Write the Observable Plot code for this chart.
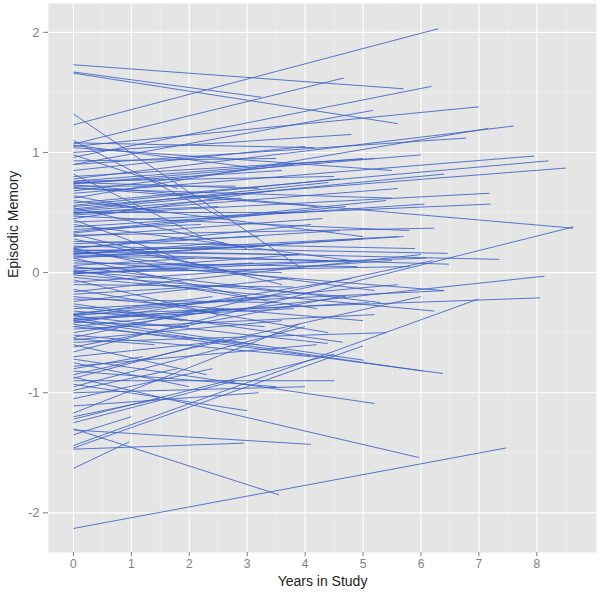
<!DOCTYPE html>
<html>
<head>
<meta charset="utf-8">
<script src="https://cdn.jsdelivr.net/npm/d3@7"></script>
<script src="https://cdn.jsdelivr.net/npm/@observablehq/plot@0.6"></script>
<style>
  html, body { margin: 0; padding: 0; background: #ffffff; }
  #chart svg { display: block; }
</style>
</head>
<body>
<div id="chart"></div>
<script>
// Each participant's fitted trajectory: value at year 0, last year in study, value at that year
const intercepts = [
  1.73, 1.67, 1.66, 1.32, 1.23, 1.07, 0.96, 1.08, 1.05, 0.90, 0.78, 1.10, 1.06, 1.04, 1.00, 0.98, 0.62, 0.93, 0.90, 0.85, 0.82, 0.80,
  0.76, 0.75, 0.74, 0.73, 0.72, 0.71, 0.70, 0.68, 0.66, 0.64, 0.60, 0.58, 0.56, 0.55, 0.54, 0.52, 0.50, 0.50, 0.48, 0.47, 0.45, 0.44,
  0.42, 0.40, 0.38, 0.36, 0.34, 0.32, 0.31, 0.30, 0.28, 0.26, 0.24, 0.22, 0.21, 0.20, 0.19, 0.18, 0.17, 0.16, 0.15, 0.14, 0.13, 0.12,
  0.10, 0.08, 0.06, 0.05, 0.04, 0.03, 0.02, 0.01, 0.00, -0.01, -0.02, -0.04, -0.06, -0.08, -0.10, -0.45, -0.14, -0.16, -0.18, -0.20,
  -0.22, -0.35, -0.26, -0.28, -0.30, -0.32, -0.34, -0.35, -0.36, -0.38, -0.39, -0.40, -0.41, -0.42, -0.43, -0.45, -0.47, -0.50, -0.52,
  -0.54, -0.55, -0.56, -0.58, -0.60, -0.62, -0.66, -0.70, -0.72, -0.75, -0.78, -0.80, -0.82, -0.85, -0.87, -0.88, -0.90, -0.93, -0.95,
  -0.98, -1.00, -1.05, -1.31, -1.30, -1.11, -1.17, -1.22, -1.44, -1.46, -1.47, -1.63, -2.13, -1.20, -1.25, -1.35,
  0.76, 0.74, 0.53, 0.51, 0.49, 0.20, 0.18, 0.16, 0.01, -0.01, -0.36, -0.38, -0.40, 0.33, 0.12, -0.24
];
const endYears = [
  5.70, 3.24, 5.60, 3.90, 6.30, 4.67, 6.18, 4.16, 7.00, 5.17, 7.60, 2.60, 3.00, 5.50, 4.80, 1.80, 7.16, 3.50, 6.78, 4.00, 2.20, 5.20,
  4.50, 3.20, 6.00, 8.63, 2.80, 4.20, 5.50, 3.80, 7.95, 1.50, 5.00, 8.20, 4.60, 8.50, 3.00, 6.40, 4.00, 2.50, 7.18, 5.80, 3.40, 1.80,
  7.20, 4.80, 6.06, 2.20, 5.40, 3.60, 6.23, 4.30, 2.80, 5.90, 3.20, 6.46, 4.60, 1.50, 7.35, 5.20, 3.90, 6.48, 2.60, 4.40, 5.70, 3.00,
  6.40, 4.90, 2.10, 5.30, 3.60, 6.10, 4.20, 1.60, 5.80, 3.10, 4.70, 6.23, 2.50, 5.50, 3.80, 8.13, 4.40, 6.00, 2.80, 5.00,
  3.50, 8.06, 4.65, 1.90, 6.40, 3.30, 5.60, 2.40, 4.39, 5.02, 3.80, 6.04, 2.00, 4.80, 6.38, 3.20, 5.20, 2.70, 4.10,
  6.20, 1.40, 3.60, 5.40, 2.30, 4.60, 8.63, 3.00, 5.20, 2.00, 4.20, 1.20, 3.50, 6.00, 5.97, 2.60, 4.50, 3.00, 4.00,
  1.80, 4.00, 2.40, 4.10, 3.55, 3.20, 3.90, 4.50, 6.99, 5.00, 2.94, 0.96, 7.47, 1.50, 2.80, 1.00,
  5.00, 3.60, 4.40, 2.90, 5.60, 4.10, 3.30, 5.60, 3.90, 4.80, 3.40, 5.10, 2.60, 4.70, 5.00, 3.70
];
const endValues = [
  1.53, 1.46, 1.24, 0.05, 2.03, 1.62, 1.55, 1.04, 1.38, 1.35, 1.22, 0.45, 0.88, 0.85, 1.15, 0.70, 1.20, 0.95, 1.12, 1.05, 0.30, 0.95,
  0.80, 0.70, 0.98, 0.37, 0.72, 0.55, 0.62, 0.90, 0.97, 0.50, 0.30, 0.93, 0.78, 0.87, 0.20, 0.82, 0.50, 0.55, 0.66, 0.35, 0.68, 0.12,
  0.57, 0.10, 0.57, 0.40, 0.60, -0.10, 0.37, 0.45, 0.00, 0.20, 0.30, 0.16, 0.35, 0.05, 0.11, -0.15, 0.15, 0.07, 0.25, 0.10, 0.30, -0.20,
  -0.15, 0.05, 0.12, -0.25, 0.00, 0.12, -0.30, -0.05, 0.05, 0.08, -0.20, -0.32, -0.35, 0.10, -0.12, -0.03, -0.50, 0.15, -0.10, -0.40,
  -0.25, -0.21, -0.58, -0.40, -0.15, -0.45, -0.10, -0.20, -0.59, -0.73, -0.30, -0.82, -0.45, -0.05, -0.84, -0.60, -0.35, -0.30, -0.70,
  0.10, -0.60, -0.40, -0.50, -0.85, -0.20, 0.38, -0.55, -1.09, -0.95, -0.60, -0.70, -0.95, -0.20, -1.54, -0.55, -0.90, -1.15, -0.45,
  -0.80, -0.95, -0.80, -1.43, -1.85, -1.00, -0.43, -0.68, -0.22, -0.61, -1.42, -1.41, -1.46, -1.05, -0.90, -1.20,
  0.95, 0.85, 0.75, 0.62, 0.70, 0.40, 0.22, 0.30, 0.15, 0.10, -0.20, -0.25, -0.30, 0.55, 0.28, -0.05
];
const xTicks = [0, 1, 2, 3, 4, 5, 6, 7, 8];
const yTicks = [-2, -1, 0, 1, 2];
const xMinor = [0.5, 1.5, 2.5, 3.5, 4.5, 5.5, 6.5, 7.5, 8.5];
const yMinor = [-1.5, -0.5, 0.5, 1.5];
const xTitle = "Years in Study";
const yTitle = "Episodic Memory";

const rows = intercepts.map((v, i) => ({start: 0, y0: v, t1: endYears[i], y1: endValues[i]}));

const chart = Plot.plot({
  width: 601,
  height: 594,
  marginLeft: 48,
  marginRight: 5,
  marginTop: 3,
  marginBottom: 42,
  style: {fontFamily: "'Liberation Sans', Arial, sans-serif", background: "#ffffff"},
  x: {domain: [-0.43, 9.03], label: null},
  y: {domain: [-2.33, 2.24], label: null},
  marks: [
    Plot.frame({fill: "#e5e5e5", stroke: null}),
    Plot.ruleX(xMinor, {stroke: "#f2f2f2", strokeWidth: 0.6}),
    Plot.ruleY(yMinor, {stroke: "#f2f2f2", strokeWidth: 0.6}),
    Plot.gridX(xTicks, {stroke: "#ffffff", strokeOpacity: 1, strokeWidth: 1.1}),
    Plot.gridY(yTicks, {stroke: "#ffffff", strokeOpacity: 1, strokeWidth: 1.1}),
    Plot.link(rows, {x1: "start", y1: "y0", x2: "t1", y2: "y1", stroke: "#3b61c9", strokeWidth: 0.85}),
    Plot.axisX(xTicks, {tickSize: 4, tickPadding: 3, fontSize: 12, color: "#7f7f7f", label: null, tickFormat: d => String(d)}),
    Plot.axisY(yTicks, {tickSize: 5, tickPadding: 4, fontSize: 13, color: "#7f7f7f", label: null, tickFormat: d => String(d)}),
    Plot.text([xTitle], {frameAnchor: "bottom", dy: 33, fontSize: 14, fill: "#222222"}),
    Plot.text([yTitle], {frameAnchor: "left", dx: -35, rotate: -90, fontSize: 14, fill: "#222222"})
  ]
});
document.getElementById("chart").appendChild(chart);
</script>
</body>
</html>
